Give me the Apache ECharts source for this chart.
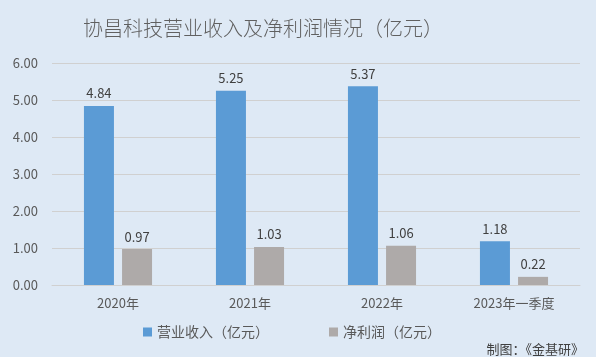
<!DOCTYPE html>
<html><head><meta charset="utf-8">
<script src="https://cdn.jsdelivr.net/npm/echarts@6/dist/echarts.min.js"></script>
<style>html,body{margin:0;padding:0;background:#dee9f5;}#c{width:596px;height:357px;}</style>
</head><body><div id="c"></div>
<script>
const categories = ['2020年', '2021年', '2022年', '2023年一季度'];
const revenue = [4.84, 5.25, 5.37, 1.18];
const profit = [0.97, 1.03, 1.06, 0.22];
const seriesNames = ['营业收入（亿元）', '净利润（亿元）'];
const yTicks = {min: 0, max: 6, interval: 1};

const chart = echarts.init(document.getElementById('c'), null, {renderer: 'canvas'});
const font = "'Noto Sans CJK SC', 'Microsoft YaHei', sans-serif";
const lbl = {show: true, position: 'top', distance: 6, color: '#404040', fontSize: 13, fontFamily: font, formatter: p => p.value.toFixed(2)};
chart.setOption({
  backgroundColor: '#dee9f5',
  animation: false,
  title: [{
    text: '协昌科技营业收入及净利润情况（亿元）', left: 78, top: 13,
    textStyle: {color: '#606060', fontSize: 20, fontWeight: 300, fontFamily: font}
  }, {
    text: '制图：《金基研》', right: 7, top: 338,
    textStyle: {color: '#404040', fontSize: 13, fontWeight: 'normal', fontFamily: font}
  }],
  legend: {
    data: seriesNames, left: 138, top: 320, itemWidth: 9, itemHeight: 9, itemGap: 60, icon: 'rect',
    textStyle: {color: '#595959', fontSize: 14, fontFamily: font}
  },
  grid: {left: 52, right: 16, top: 63, bottom: 72},
  xAxis: {
    type: 'category', data: categories,
    axisLine: {lineStyle: {color: '#d0d0d0'}}, axisTick: {show: false},
    axisLabel: {color: '#595959', fontSize: 13, fontFamily: font, margin: 12}
  },
  yAxis: {
    type: 'value', min: yTicks.min, max: yTicks.max, interval: yTicks.interval,
    axisLine: {show: false}, axisTick: {show: false},
    splitLine: {lineStyle: {color: '#d0d0d0'}},
    axisLabel: {color: '#595959', fontSize: 13, fontFamily: font, margin: 14, formatter: v => v.toFixed(2)}
  },
  series: [
    {name: seriesNames[0], type: 'bar', data: revenue, barWidth: 30, barGap: '27%', itemStyle: {color: '#5b9bd5'}, label: lbl},
    {name: seriesNames[1], type: 'bar', data: profit, barWidth: 30, itemStyle: {color: '#aeaaa9'}, label: lbl}
  ]
});
</script></body></html>
